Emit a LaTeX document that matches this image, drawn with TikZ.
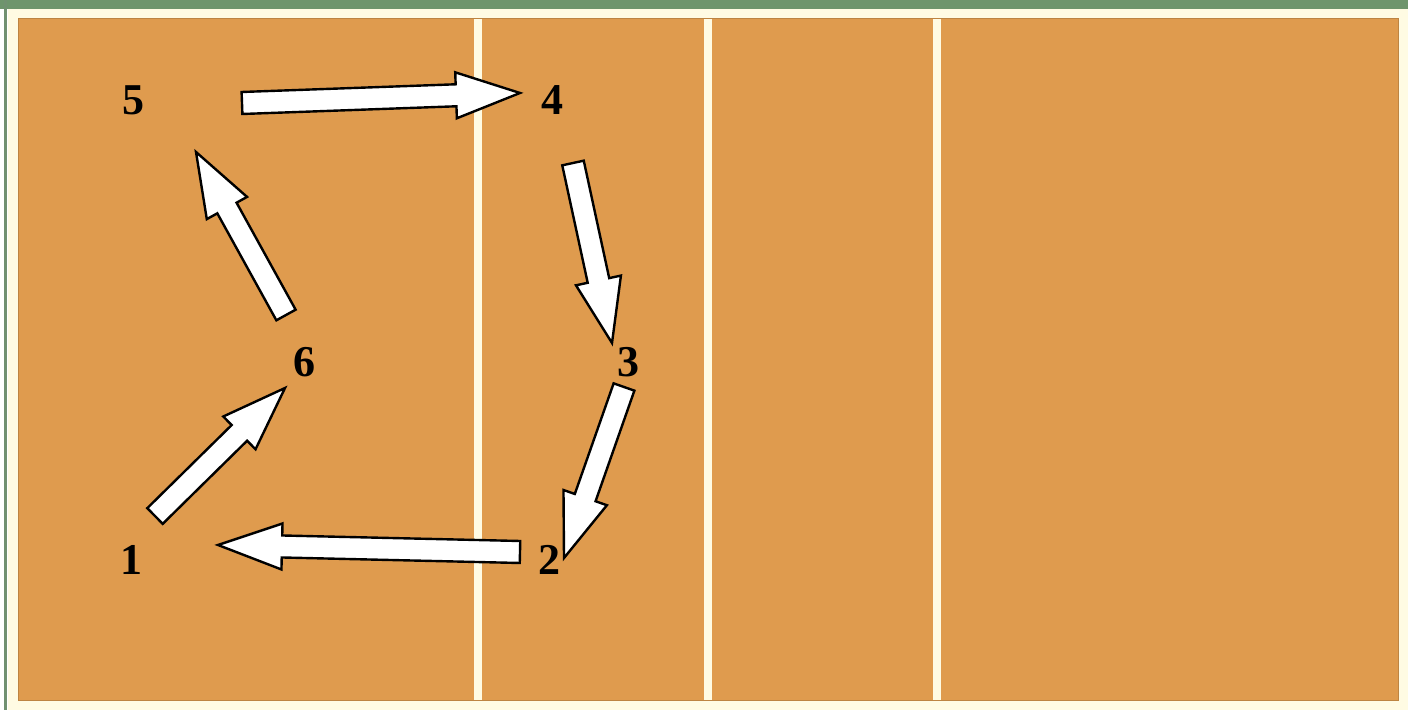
\documentclass[tikz,border=0pt]{standalone}
\usepackage{fontspec}
\setmainfont{Liberation Serif}
\usetikzlibrary{calc}
\definecolor{court}{HTML}{DF9B4E}
\definecolor{topgreen}{HTML}{6E956C}
\definecolor{cream}{HTML}{FFFBE3}
\tikzset{
  lbl/.style={font=\fontsize{22}{22}\selectfont\bfseries, text=black, inner sep=0pt},
  blockarrow/.style={draw=black, fill=white, line width=1.2pt, line join=miter},
  courtline/.style={draw=cream, line width=3.8pt}
}
\newcommand\blockarr[2]{%
  \path ($(#2)!32pt!(#1)$) coordinate (hb);
  \draw[blockarrow] ($(#1)!5.5pt!90:(#2)$) -- ($(hb)!5.5pt!90:(#2)$) -- ($(hb)!11.5pt!90:(#2)$) -- (#2)
    -- ($(hb)!11.5pt!-90:(#2)$) -- ($(hb)!5.5pt!-90:(#2)$) -- ($(#1)!5.5pt!-90:(#2)$) -- cycle;
}
\begin{document}
\begin{tikzpicture}[x=0.5pt,y=-0.5pt]
\useasboundingbox (0,0) rectangle (1408,710);
\fill[white] (0,0) rectangle (1408,710);
\fill[topgreen] (0,0) rectangle (1408,9);
\fill[topgreen!80!gray] (4,0) rectangle (7,710);
\fill[cream] (8,9) rectangle (1408,710);
\fill[court] (18,19) rectangle (1398,700);
\draw[court!85!black, line width=0.5pt] (18,19) rectangle (1398,700);
\draw[courtline] (478,19) -- (478,700);
\draw[courtline] (708,19) -- (708,700);
\draw[courtline] (937,19) -- (937,700);

\node[lbl] (n5) at (133,100) {5};
\node[lbl] (n4) at (552,100) {4};
\node[lbl] (n3) at (628,362) {3};
\node[lbl] (n2) at (549,560) {2};
\node[lbl] (n1) at (131,560) {1};
\node[lbl] (n6) at (304,362) {6};

\coordinate (t54) at (242,103); \coordinate (h54) at (520,93);
\coordinate (t43) at (573,163); \coordinate (h43) at (612,343);
\coordinate (t32) at (624,387); \coordinate (h32) at (564,558);
\coordinate (t21) at (520,552); \coordinate (h21) at (218,545);
\coordinate (t16) at (155,516); \coordinate (h16) at (285,388);
\coordinate (t65) at (286,315); \coordinate (h65) at (196,152);

\blockarr{t54}{h54}
\blockarr{t43}{h43}
\blockarr{t32}{h32}
\blockarr{t21}{h21}
\blockarr{t16}{h16}
\blockarr{t65}{h65}
\end{tikzpicture}
\end{document}
